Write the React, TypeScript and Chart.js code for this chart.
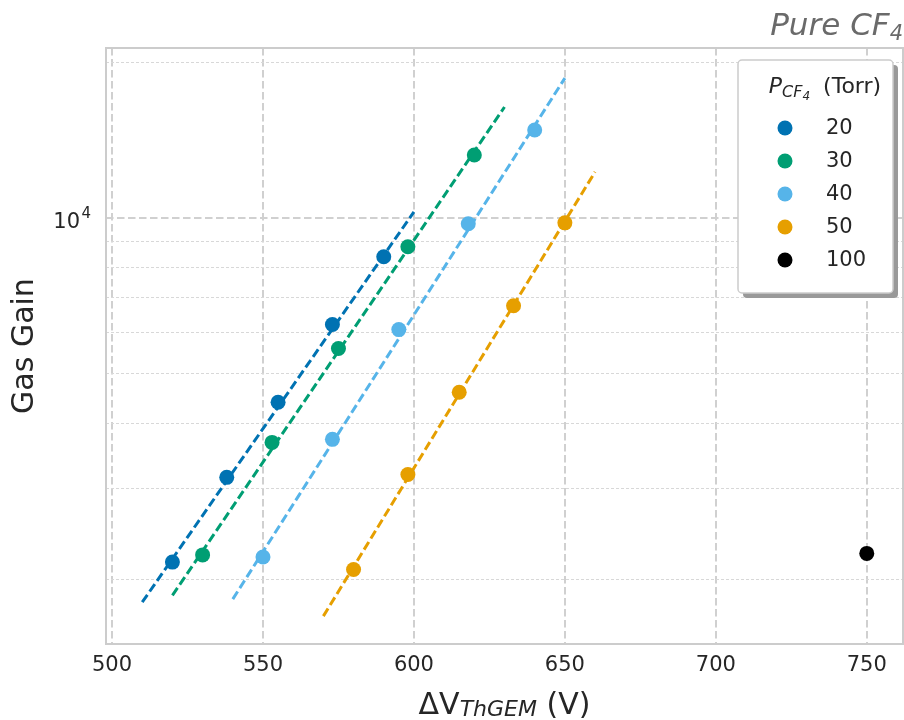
import React, { useEffect, useRef } from "react";
import { Chart, registerables } from "chart.js";

Chart.register(...registerables);

// ---- data ----
const pressureLabels = ["20", "30", "40", "50", "100"];
const seriesColors = ["#0072b2", "#009e73", "#56b4e9", "#e69f00", "#000000"];

const volts20 = [520, 538, 555, 573, 590];
const gain20 = [2160, 3150, 4400, 6220, 8410];
const volts30 = [530, 553, 575, 598, 620];
const gain30 = [2230, 3680, 5590, 8790, 13230];
const volts40 = [550, 573, 595, 618, 640];
const gain40 = [2210, 3730, 6080, 9740, 14790];
const volts50 = [580, 598, 615, 633, 650];
const gain50 = [2090, 3190, 4600, 6760, 9780];
const volts100 = [750];
const gain100 = [2245];

const fitVolts20 = [510, 600];
const fitGain20 = [1807, 10270];
const fitVolts30 = [520, 630];
const fitGain30 = [1863, 16380];
const fitVolts40 = [540, 650];
const fitGain40 = [1832, 18630];
const fitVolts50 = [570, 660];
const fitGain50 = [1698, 12270];

const xTicks = [500, 550, 600, 650, 700, 750];
const yTicks = [2000, 3000, 4000, 5000, 6000, 7000, 8000, 9000, 10000, 20000];

const FONT = "DejaVu Sans";
const TEXT = "#262626";

const pts = (xs: number[], ys: number[]) => xs.map((x, i) => ({ x, y: ys[i] }));

type Seg = { t: string; font: string; dy?: number; dx?: number };
function drawSegs(ctx: CanvasRenderingContext2D, segs: Seg[], x: number, y: number, align: "left" | "center" | "right", color: string) {
  ctx.save();
  ctx.fillStyle = color;
  ctx.textBaseline = "alphabetic";
  ctx.textAlign = "left";
  let total = 0;
  const widths = segs.map((s) => {
    ctx.font = s.font;
    const w = ctx.measureText(s.t).width + (s.dx || 0);
    total += w;
    return w;
  });
  let cx = align === "left" ? x : align === "center" ? x - total / 2 : x - total;
  segs.forEach((s, i) => {
    ctx.font = s.font;
    ctx.fillText(s.t, cx + (s.dx || 0), y + (s.dy || 0));
    cx += widths[i];
  });
  ctx.restore();
}

const decorPlugin = {
  id: "decor",
  beforeDatasetsDraw(chart: any) {
    const { ctx, chartArea: a } = chart;
    ctx.save();
    ctx.strokeStyle = "#cccccc";
    ctx.lineWidth = 2;
    ctx.setLineDash([]);
    ctx.strokeRect(a.left, a.top, a.right - a.left, a.bottom - a.top);
    ctx.restore();
  },
  afterDraw(chart: any) {
    const { ctx, chartArea: a } = chart;
    const yScale = chart.scales.y;

    // 10^4 label
    const y4 = yScale.getPixelForValue(10000);
    drawSegs(ctx, [{ t: "10", font: `21px "${FONT}"` }], 80, y4 + 10, "right", TEXT);
    drawSegs(ctx, [{ t: "4", font: `15px "${FONT}"` }], 81.5, y4, "left", TEXT);

    // Y title
    ctx.save();
    ctx.translate(25, (a.top + a.bottom) / 2);
    ctx.rotate(-Math.PI / 2);
    ctx.fillStyle = TEXT;
    ctx.font = `30px "${FONT}"`;
    ctx.textAlign = "center";
    ctx.textBaseline = "middle";
    ctx.fillText("Gas Gain", 0, 0);
    ctx.restore();

    // X title
    drawSegs(
      ctx,
      [
        { t: "ΔV", font: `30px "${FONT}"` },
        { t: "ThGEM", font: `italic 22px "${FONT}"`, dy: 2 },
        { t: " (V)", font: `30px "${FONT}"` },
      ],
      (a.left + a.right) / 2,
      714,
      "center",
      TEXT
    );

    // Title
    ctx.save();
    ctx.font = `italic 21px "${FONT}"`;
    const w4 = ctx.measureText("4").width;
    ctx.restore();
    drawSegs(ctx, [{ t: "Pure CF", font: `italic 31px "${FONT}"` }], 903 - w4, 35, "right", "#6a6a6a");
    drawSegs(ctx, [{ t: "4", font: `italic 21px "${FONT}"` }], 903 - w4, 40, "left", "#6a6a6a");

    // Legend
    const lx = 738, ly = 60, lw = 155, lh = 233;
    ctx.save();
    ctx.fillStyle = "#999999";
    ctx.beginPath();
    ctx.roundRect(lx + 5, ly + 5, lw, lh, 4);
    ctx.fill();
    ctx.fillStyle = "#ffffff";
    ctx.strokeStyle = "#cccccc";
    ctx.lineWidth = 1.5;
    ctx.beginPath();
    ctx.roundRect(lx, ly, lw, lh, 4);
    ctx.fill();
    ctx.stroke();
    ctx.restore();

    drawSegs(
      ctx,
      [
        { t: "P", font: `italic 22px "${FONT}"` },
        { t: "CF", font: `italic 16px "${FONT}"`, dy: 4 },
        { t: "4", font: `italic 12px "${FONT}"`, dy: 7 },
        { t: " (Torr)", font: `22px "${FONT}"`, dx: 6 },
      ],
      825,
      93,
      "center",
      TEXT
    );
    const rowYs = [128, 161, 194, 227, 260];
    pressureLabels.forEach((lab, i) => {
      ctx.save();
      ctx.fillStyle = seriesColors[i];
      ctx.beginPath();
      ctx.arc(785, rowYs[i], 7.5, 0, Math.PI * 2);
      ctx.fill();
      ctx.fillStyle = TEXT;
      ctx.font = `21px "${FONT}"`;
      ctx.textAlign = "left";
      ctx.textBaseline = "middle";
      ctx.fillText(lab, 826, rowYs[i] + 1);
      ctx.restore();
    });
  },
};

export default function App() {
  const ref = useRef<HTMLCanvasElement | null>(null);
  useEffect(() => {
    document.body.style.margin = "0";
    if (!ref.current) return;
    const scatterSets = [
      [volts20, gain20],
      [volts30, gain30],
      [volts40, gain40],
      [volts50, gain50],
      [volts100, gain100],
    ].map(([xs, ys], i) => ({
      label: pressureLabels[i],
      data: pts(xs, ys),
      backgroundColor: seriesColors[i],
      borderWidth: 0,
      pointRadius: 7.5,
      showLine: false,
      order: 0,
    }));
    const fitSets = [
      [fitVolts20, fitGain20],
      [fitVolts30, fitGain30],
      [fitVolts40, fitGain40],
      [fitVolts50, fitGain50],
    ].map(([xs, ys], i) => ({
      label: "fit " + pressureLabels[i],
      data: pts(xs, ys),
      borderColor: seriesColors[i],
      borderWidth: 3,
      borderDash: [9, 4],
      pointRadius: 0,
      showLine: true,
      fill: false,
      order: 1,
    }));
    const chart = new Chart(ref.current, {
      type: "scatter",
      data: { datasets: [...scatterSets, ...fitSets] as any },
      options: {
        responsive: false,
        animation: false,
        devicePixelRatio: 1,
        layout: { autoPadding: false, padding: { top: 48, right: 1, left: 0, bottom: 0 } },
        plugins: { legend: { display: false }, tooltip: { enabled: false }, title: { display: false } },
        scales: {
          x: {
            type: "linear",
            min: 498,
            max: 762,
            afterBuildTicks: (s: any) => {
              s.ticks = xTicks.map((v) => ({ value: v }));
            },
            afterFit: (s: any) => {
              s.height = 76;
              s.paddingLeft = 0;
              s.paddingRight = 0;
            },
            grid: { color: "#d0d0d0", lineWidth: 2, drawTicks: false },
            border: { display: false, dash: [7.5, 3.5] },
            ticks: { font: { family: FONT, size: 21 }, color: TEXT, padding: 9, maxRotation: 0 },
          },
          y: {
            type: "logarithmic",
            min: 1500,
            max: 21300,
            afterBuildTicks: (s: any) => {
              s.ticks = yTicks.map((v) => ({ value: v, major: v === 10000 }));
            },
            afterFit: (s: any) => {
              s.width = 106;
              s.paddingTop = 0;
              s.paddingBottom = 0;
            },
            grid: {
              drawTicks: false,
              color: (c: any) => (c.tick && c.tick.value === 10000 ? "#d0d0d0" : "#d8d8d8"),
              lineWidth: (c: any) => (c.tick && c.tick.value === 10000 ? 2 : 1),
            },
            border: {
              display: false,
              dash: (c: any) => (c.tick && c.tick.value === 10000 ? [7.5, 3.5] : [3, 2]),
            } as any,
            ticks: { display: false },
          },
        },
      } as any,
      plugins: [decorPlugin],
    });
    return () => chart.destroy();
  }, []);
  return (
    <div style={{ position: "absolute", left: 0, top: 0, width: 904, height: 720 }}>
      <canvas ref={ref} width={904} height={720} style={{ width: 904, height: 720 }} />
    </div>
  );
}
